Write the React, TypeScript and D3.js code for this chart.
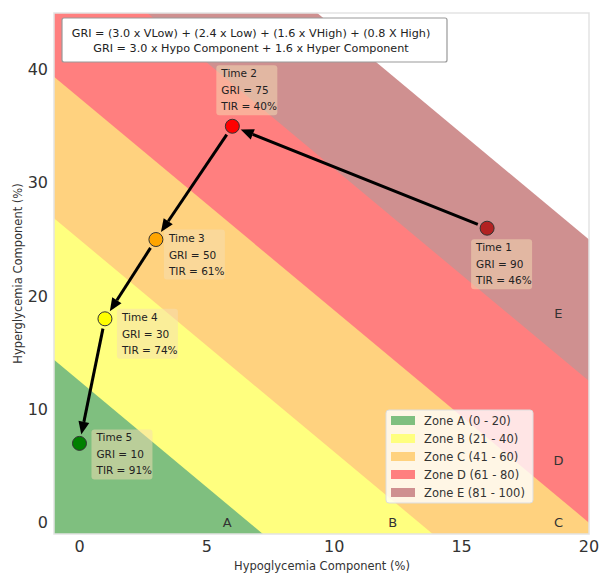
import React from "react";
import * as d3 from "d3";

const hypoValues = [16, 6, 3, 1, 0];
const hyperValues = [26, 35, 25, 18, 7];
const timeLabels = ["Time 1", "Time 2", "Time 3", "Time 4", "Time 5"];
const griValues = [90, 75, 50, 30, 10];
const tirValues = [46, 40, 61, 74, 91];

const zoneNames = ["A", "B", "C", "D", "E"];
const zoneUpper = [20, 40, 60, 80, 100];
const zoneLegend = ["Zone A (0 - 20)", "Zone B (21 - 40)", "Zone C (41 - 60)", "Zone D (61 - 80)", "Zone E (81 - 100)"];
const zoneLabelX = [5.8, 12.3, 18.8, 18.8, 18.8];
const zoneLabelY = [0, 0, 0, 5.5, 18.5];

const xTicks = [0, 5, 10, 15, 20];
const yTicks = [0, 10, 20, 30, 40];

const zoneFill = ["#7fbf7f", "#ffff7f", "#ffd27f", "#ff7f7f", "#cf9090"];
const pointFill = ["#b22222", "#ff0000", "#ffa500", "#ffff00", "#008000"];
// annotation box offsets (px) relative to point
const boxOffsets = [
  [-16, 11],
  [-16, -61],
  [8, -10],
  [12, -10],
  [12, -14],
];

const W = 604;
const H = 577;
const left = 54, right = 589, top = 13, bottom = 534;

const x = d3.scaleLinear().domain([-1, 20]).range([left, right]);
const y = d3.scaleLinear().domain([-1, 45]).range([bottom, top]);

function clipHalf(poly: [number, number][], g: number): [number, number][] {
  const f = (p: [number, number]) => 3 * p[0] + 1.6 * p[1] - g;
  const out: [number, number][] = [];
  for (let i = 0; i < poly.length; i++) {
    const a = poly[i];
    const b = poly[(i + 1) % poly.length];
    const fa = f(a), fb = f(b);
    if (fa <= 0) out.push(a);
    if ((fa < 0 && fb > 0) || (fa > 0 && fb < 0)) {
      const t = fa / (fa - fb);
      out.push([a[0] + t * (b[0] - a[0]), a[1] + t * (b[1] - a[1])]);
    }
  }
  return out;
}

const box: [number, number][] = [[-1, -1], [20, -1], [20, 45], [-1, 45]];

export default function App() {
  const font = "DejaVu Sans, sans-serif";
  const zonesDesc = zoneUpper.map((u, i) => ({ u, i })).reverse();
  const arrows = [];
  for (let i = 0; i < hypoValues.length - 1; i++) {
    const x1 = x(hypoValues[i]), y1 = y(hyperValues[i]);
    const x2 = x(hypoValues[i + 1]), y2 = y(hyperValues[i + 1]);
    const dx = x2 - x1, dy = y2 - y1;
    const L = Math.hypot(dx, dy);
    const ux = dx / L, uy = dy / L;
    const sx = x1 + ux * 10, sy = y1 + uy * 10;
    const ex = x2 - ux * 9, ey = y2 - uy * 9;
    const hl = 13, hw = 5.5;
    const bx = ex - ux * hl, by = ey - uy * hl;
    arrows.push(
      <g key={"a" + i}>
        <line x1={sx} y1={sy} x2={bx} y2={by} stroke="#000" strokeWidth={3} />
        <polygon
          points={`${ex},${ey} ${bx - uy * hw},${by + ux * hw} ${bx + uy * hw},${by - ux * hw}`}
          fill="#000"
        />
      </g>
    );
  }
  return (
    <svg width={W} height={H} style={{ position: "absolute", left: 0, top: 0, background: "#fff" }}>
      {zonesDesc.map(({ u, i }) => {
        const poly = clipHalf(box, u);
        return (
          <polygon
            key={i}
            points={poly.map((p) => `${x(p[0])},${y(p[1])}`).join(" ")}
            fill={zoneFill[i]}
          />
        );
      })}
      <rect x={left} y={top} width={right - left} height={bottom - top} fill="none" stroke="#e3e3e3" strokeWidth={1.5} />
      {zoneNames.map((n, i) => (
        <text key={n} x={x(zoneLabelX[i])} y={y(zoneLabelY[i])} dy="0.35em" textAnchor="middle" fontFamily={font} fontSize={13} fill="#333">
          {n}
        </text>
      ))}
      {xTicks.map((t) => (
        <text key={"x" + t} x={x(t)} y={546} dy="0.35em" textAnchor="middle" fontFamily={font} fontSize={16} fill="#333">
          {t}
        </text>
      ))}
      {yTicks.map((t) => (
        <text key={"y" + t} x={48} y={y(t)} dy="0.35em" textAnchor="end" fontFamily={font} fontSize={16} fill="#333">
          {t}
        </text>
      ))}
      <text x={322} y={570} textAnchor="middle" fontFamily={font} fontSize={11.5} fill="#333">
        Hypoglycemia Component (%)
      </text>
      <text transform={`translate(22,${(top + bottom) / 2}) rotate(-90)`} textAnchor="middle" fontFamily={font} fontSize={11.5} fill="#333">
        Hyperglycemia Component (%)
      </text>
      {arrows}
      {hypoValues.map((h, i) => {
        const px = x(h), py = y(hyperValues[i]);
        const bx = px + boxOffsets[i][0], by = py + boxOffsets[i][1];
        return (
          <g key={"p" + i}>
            <rect x={bx} y={by} width={61} height={50} rx={3} fill="wheat" fillOpacity={0.5} />
            <text x={bx + 5} y={by + 12} fontFamily={font} fontSize={10.5} fill="#222">{timeLabels[i]}</text>
            <text x={bx + 5} y={by + 29} fontFamily={font} fontSize={10.5} fill="#222">{`GRI = ${griValues[i]}`}</text>
            <text x={bx + 5} y={by + 45} fontFamily={font} fontSize={10.5} fill="#222">{`TIR = ${tirValues[i]}%`}</text>
            <circle cx={px} cy={py} r={7} fill={pointFill[i]} stroke="#333" strokeWidth={1} />
          </g>
        );
      })}
      <rect x={62} y={18} width={385} height={44} rx={2} fill="#fff" stroke="#999" strokeWidth={1.2} />
      <text x={251} y={37} textAnchor="middle" fontFamily={font} fontSize={11.2} fill="#222">
        GRI = (3.0 x VLow) + (2.4 x Low) + (1.6 x VHigh) + (0.8 X High)
      </text>
      <text x={251} y={52} textAnchor="middle" fontFamily={font} fontSize={11.2} fill="#222">
        GRI = 3.0 x Hypo Component + 1.6 x Hyper Component
      </text>
      <rect x={386} y={410} width={147} height={93} rx={3} fill="#fff" fillOpacity={0.8} stroke="#ddd" />
      {zoneLegend.map((lbl, i) => (
        <g key={"l" + i}>
          <rect x={391} y={416 + i * 18} width={24} height={9} fill={zoneFill[i]} />
          <text x={424} y={420.5 + i * 18} dy="0.35em" fontFamily={font} fontSize={11.5} fill="#333">{lbl}</text>
        </g>
      ))}
    </svg>
  );
}
